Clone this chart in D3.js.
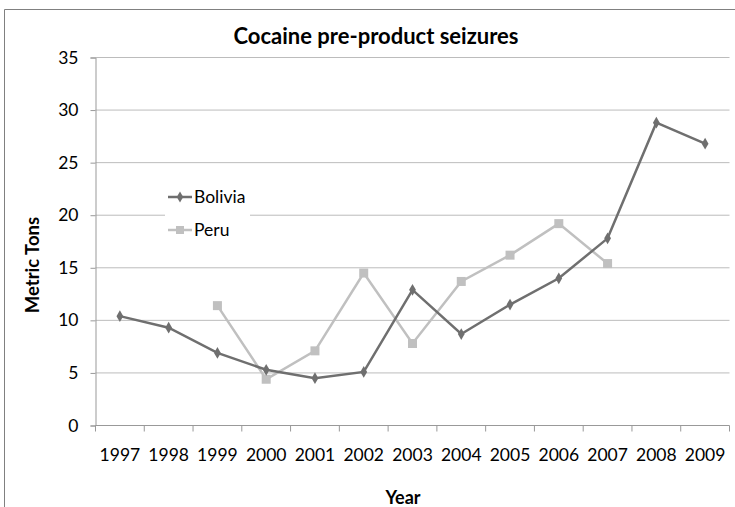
<!DOCTYPE html>
<html><head><meta charset="utf-8">
<script src="https://cdn.jsdelivr.net/npm/d3@7"></script>
<style>body{margin:0;background:#fff;} svg{display:block;}</style>
</head><body>
<script>
const years = ["1997","1998","1999","2000","2001","2002","2003","2004","2005","2006","2007","2008","2009"];
const bolivia = [10.4, 9.3, 6.9, 5.3, 4.5, 5.1, 12.9, 8.7, 11.5, 14.0, 17.8, 28.8, 26.8];
const peru = [null, null, 11.4, 4.4, 7.1, 14.5, 7.8, 13.7, 16.2, 19.2, 15.4, null, null];
const yTicks = [0, 5, 10, 15, 20, 25, 30, 35];
const seriesNames = ["Bolivia", "Peru"];

const W = 735, H = 507;
const font = "Lato, 'Open Sans', sans-serif";
const svg = d3.select("body").append("svg").attr("width", W).attr("height", H);

// outer frame
svg.append("path").attr("d", `M4.5,${H} V9.5 H${W}`).attr("fill","none").attr("stroke","#808080").attr("stroke-width",1);

const pL = 95.5, pR = 729.5, pT = 57.5, pB = 425.5;
const x = d3.scaleBand().domain(years).range([pL, pR]);
const y = d3.scaleLinear().domain([0, 35]).range([pB, pT]);

// gridlines
svg.append("g").selectAll("line").data(yTicks.filter(d => d > 0)).join("line")
  .attr("x1", pL).attr("x2", pR).attr("y1", d => y(d)).attr("y2", d => y(d))
  .attr("stroke", "#bcbcbc").attr("stroke-width", 1);

// y axis
const yAxis = svg.append("g").attr("transform", `translate(${pL},0)`)
  .call(d3.axisLeft(y).tickValues(yTicks).tickSize(5).tickPadding(12));
yAxis.select(".domain").attr("stroke", "#999");
yAxis.selectAll(".tick line").attr("stroke", "#999");
yAxis.selectAll("text").attr("font-family", font).attr("font-size", 17.5).attr("fill", "#000");

// x axis
const xg = svg.append("g").attr("transform", `translate(0,${pB})`);
xg.append("line").attr("x1", pL).attr("x2", pR).attr("stroke", "#999");
const bounds = years.map(d => x(d)).concat([x(years[years.length-1]) + x.bandwidth()]);
xg.selectAll("line.tk").data(bounds).join("line").attr("class","tk")
  .attr("x1", d => d).attr("x2", d => d).attr("y1", 0).attr("y2", 6).attr("stroke", "#999");
xg.selectAll("text").data(years).join("text")
  .attr("x", d => x(d) + x.bandwidth()/2).attr("y", 35)
  .attr("text-anchor", "middle").attr("font-family", font).attr("font-size", 17.5).attr("fill", "#000")
  .text(d => d);

// title & axis titles
svg.append("text").attr("x", 376).attr("y", 44).attr("text-anchor","middle")
  .attr("font-family", font).attr("font-weight","bold").attr("font-size", 22).text("Cocaine pre-product seizures");
svg.append("text").attr("transform", "translate(39,265) rotate(-90)").attr("text-anchor","middle")
  .attr("font-family", font).attr("font-weight","bold").attr("font-size", 18.5).text("Metric Tons");
svg.append("text").attr("x", 403).attr("y", 504).attr("text-anchor","middle")
  .attr("font-family", font).attr("font-weight","bold").attr("font-size", 18).text("Year");

const cx = (i) => x(years[i]) + x.bandwidth()/2;
const line = d3.line().defined(d => d.v != null).x(d => cx(d.i)).y(d => y(d.v));

const colB = "#6f6f6f", colP = "#c0c0c0";
const dataB = bolivia.map((v,i)=>({v,i}));
const dataP = peru.map((v,i)=>({v,i}));

svg.append("path").datum(dataP).attr("d", line).attr("fill","none").attr("stroke", colP).attr("stroke-width", 2.5);
svg.append("g").selectAll("rect").data(dataP.filter(d=>d.v!=null)).join("rect")
  .attr("x", d => cx(d.i)-4.5).attr("y", d => y(d.v)-4.5).attr("width", 9).attr("height", 9).attr("fill", colP);

svg.append("path").datum(dataB).attr("d", line).attr("fill","none").attr("stroke", colB).attr("stroke-width", 2.5);
svg.append("g").selectAll("path").data(dataB).join("path")
  .attr("d", d3.symbol(d3.symbolDiamond, 40))
  .attr("transform", d => `translate(${cx(d.i)},${y(d.v)})`).attr("fill", colB);

// legend
const lg = svg.append("g");
lg.append("rect").attr("x", 165).attr("y", 182).attr("width", 85).attr("height", 60).attr("fill", "#fff");
const legendY = [197, 230];
const cols = [colB, colP];
seriesNames.forEach((n, k) => {
  lg.append("line").attr("x1", 168).attr("x2", 192).attr("y1", legendY[k]).attr("y2", legendY[k])
    .attr("stroke", cols[k]).attr("stroke-width", 2.5);
  if (k === 0) {
    lg.append("path").attr("d", d3.symbol(d3.symbolDiamond, 36)).attr("transform", `translate(180,${legendY[k]})`).attr("fill", cols[k]);
  } else {
    lg.append("rect").attr("x", 176).attr("y", legendY[k]-4).attr("width", 8).attr("height", 8).attr("fill", cols[k]);
  }
  lg.append("text").attr("x", 194).attr("y", legendY[k] + 6).attr("font-family", font).attr("font-size", 17.5).text(n);
});
</script>
</body></html>
